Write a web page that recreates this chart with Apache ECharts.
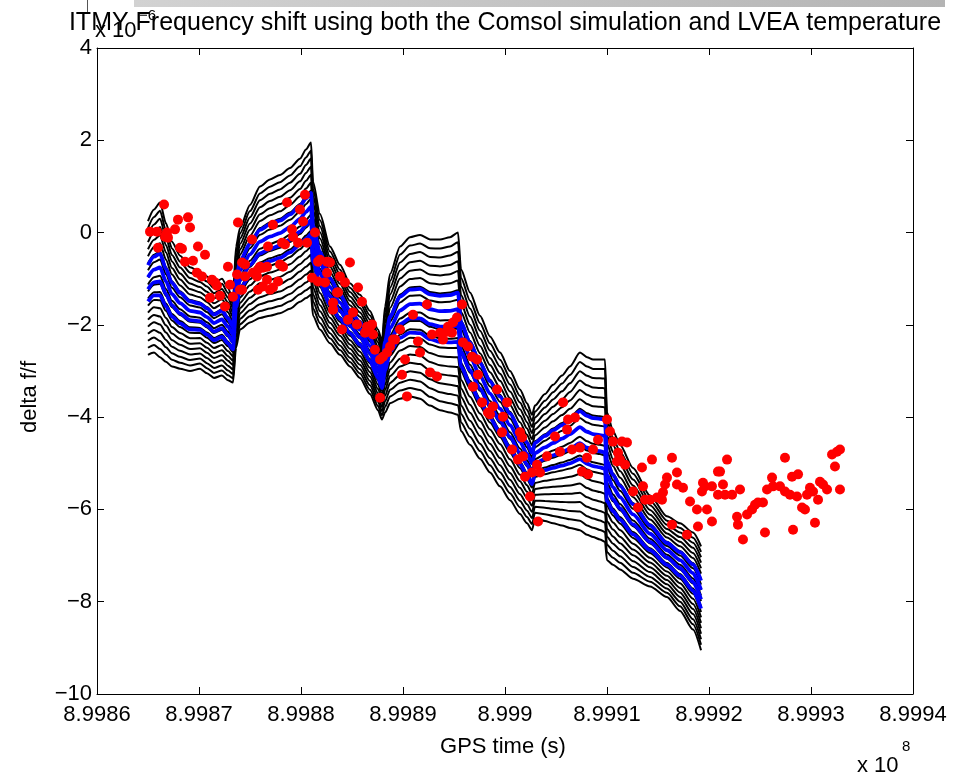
<!DOCTYPE html>
<html>
<head>
<meta charset="utf-8">
<script src="https://cdn.jsdelivr.net/npm/echarts@6.0.0/dist/echarts.min.js"></script>
<style>
  html, body { margin: 0; padding: 0; background: #fff; }
  #chart { width: 959px; height: 777px; }
</style>
</head>
<body>
<div id="chart"></div>
<script>
// GPS time of the left edge of the time axis (s)
const T0 = 899860000;

// x-axis tick values (GPS s) and y-axis range (delta f/f, units of 1e-6)
const xTickStart = 899860000, xTickEnd = 899940000, xTickStep = 10000;
const yTickMin = -10, yTickMax = 4, yTickStep = 2;

// Model time base, seconds after T0
const modelTime = [5000, 5590, 6180, 6760, 7350, 8140, 9120, 10100, 10780, 11470, 12250, 12840, 13330,
  13630, 14020, 15000, 15980, 16960, 17940, 18920, 19900, 20490, 20980,
  21180, 21860, 22840, 23820, 24800, 25780, 26760, 27550, 27940,
  28240, 28730, 29710, 30690, 31670, 32650, 33630, 34610, 35390,
  35690, 36570, 37550, 38530, 39510, 40490, 41470, 42160, 42650,
  42940, 43920, 44710, 45590, 46370, 47350, 48040, 48630, 49310, 49800,
  50000, 50590, 51270, 52550, 54220, 55880, 57160, 58430, 59220];

// Upper member of the parameter sweep (delta f/f x 1e-6)
const modelUpper = [0.25, 0.50, 0.65, 0.20, -0.20, -0.50, -0.75, -0.85, -0.95, -1.10, -1.00, -1.20, -1.45,
  -0.30, 0.10, 0.60, 1.00, 1.15, 1.25, 1.40, 1.60, 1.80, 1.95,
  1.10, 0.40, -0.30, -0.70, -1.10, -1.35, -1.70, -2.10, -2.35,
  -1.60, -0.90, -0.30, -0.10, -0.05, -0.15, -0.15, -0.10, 0.00,
  -0.80, -1.30, -1.80, -2.25, -2.60, -3.00, -3.40, -3.70, -3.95,
  -3.75, -3.50, -3.30, -3.10, -2.90, -2.60, -2.70, -2.75, -2.75, -2.75,
  -3.90, -4.30, -4.60, -5.10, -5.70, -6.15, -6.30, -6.50, -6.80];

// Lower member of the parameter sweep (delta f/f x 1e-6)
const modelLower = [-2.65, -2.60, -2.70, -2.80, -2.90, -2.95, -3.00, -2.95, -3.05, -3.15, -3.10, -3.20, -3.25,
  -2.50, -2.10, -1.95, -1.85, -1.80, -1.75, -1.65, -1.50, -1.42, -1.35,
  -1.80, -2.10, -2.40, -2.65, -2.90, -3.15, -3.50, -3.85, -4.05,
  -3.90, -3.70, -3.60, -3.55, -3.60, -3.75, -3.85, -3.90, -3.95,
  -4.30, -4.60, -4.90, -5.20, -5.50, -5.80, -6.10, -6.30, -6.45,
  -6.20, -6.25, -6.30, -6.35, -6.40, -6.45, -6.55, -6.60, -6.65, -6.70,
  -7.10, -7.20, -7.30, -7.50, -7.67, -7.90, -8.20, -8.60, -9.05];

// Sweep fractions between the upper and lower members
const sweepBlack = [0, 0.053, 0.105, 0.158, 0.211, 0.263, 0.316, 0.368, 0.421, 0.474,
  0.526, 0.579, 0.632, 0.684, 0.737, 0.789, 0.842, 0.895, 0.947, 1];
const sweepBlue = [0.33, 0.42, 0.51, 0.60];

// Measured frequency shift, seconds after T0
const measTime = [6570, 5200, 5880, 6860, 5980, 6960, 7650, 7940, 8920, 9120, 8330, 9900, 10590, 8630,
  9410, 9800, 10290, 11270, 11760, 11080, 12060, 12550, 12840, 13040, 13330, 13730, 14020, 13820,
  14510, 6670, 8140, 11570,
  15200, 14510, 15780, 15690, 16270, 16670, 16760, 17250, 18630, 19120, 19220, 19710, 19900, 20390,
  20200, 20590, 18140, 17940, 16670, 17250, 16270, 15780, 18240, 17750, 21370, 21670, 22550, 21080,
  22350, 18430, 15290, 14220, 14220, 16960, 22840, 21670, 23630, 15980,
  21860, 24800, 22550, 23820, 24310, 25590, 23530, 23140, 25980, 23140, 25100, 24610, 24020, 25490,
  26470, 26960, 26270, 27250, 27750, 28430, 28730, 29220, 29710, 30980, 32350, 30200, 31670, 31470,
  29900, 32650, 33330, 30390, 33630, 34310, 33920, 34800, 34900, 35290, 35780, 34410, 35880, 36370,
  36770, 37260, 37350, 36860, 37750, 38820, 38530, 39220, 26770, 27060, 29020, 32840, 28040, 27750,
  40200, 38330, 39800, 39710, 41470, 41670, 40690, 41770, 41270, 41960, 42650, 42450, 43240, 45690,
  46180, 46860, 44900, 46080, 44120, 43140, 45390, 43430, 46570, 47350, 48040, 47550, 48140, 48630,
  49120, 50000, 50290, 50590, 51470, 51960, 51080, 51270, 51770, 52550, 53040, 53530, 53730, 54410,
  54900, 55490, 56370, 55880, 56860, 56860, 57450, 59410, 59610, 60290, 60880, 56370, 57840, 50980,
  53430, 55690, 54220, 55390, 58140, 58820, 59310, 61080, 61370, 61770, 60880, 61570, 62260, 63040,
  59800, 58920, 60290, 62750, 62840, 63330, 63730, 64220, 64510, 64800, 65290, 65490, 65690, 66180,
  66280, 66960, 67450, 68140, 68730, 67450, 67940, 68630, 69120, 69410, 68240, 69610, 69900, 70200,
  70690, 70390, 70880, 71180, 71570, 72060, 72550, 72840, 72350, 72840];

// Measured frequency shift (delta f/f x 1e-6)
const measValue = [0.61, 0.02, 0.02, 0.00, -0.33, -0.11, 0.07, 0.28, 0.33, 0.11, -0.35, -0.30, -0.48, -0.63,
  -0.61, -0.87, -0.95, -1.02, -1.15, -1.41, -1.37, -1.60, -0.74, -1.13, -1.39, -0.91, -1.24, 0.22,
  -0.69, -0.09, -0.33, -1.08,
  -0.15, -0.95, -0.80, -0.95, -0.76, -0.74, -0.30, 0.17, 0.65, 0.07, -0.09, -0.22, 0.50, 0.82,
  0.24, -0.22, -0.22, -0.69, -1.02, -1.19, -1.17, -1.24, -0.74, -1.06, 0.00, -0.63, -0.63, -0.98,
  -1.08, -0.26, -0.87, -0.65, -1.24, -1.24, -0.65, -1.06, -1.30, -0.74,
  -0.59, -0.65, -0.87, -0.95, -1.08, -1.19, -1.30, -1.52, -1.50, -1.67, -1.73, -1.89, -2.10, -1.99,
  -2.04, -1.99, -2.17, -2.54, -2.75, -2.60, -2.47, -2.32, -2.10, -1.78, -1.56, -2.75, -2.60, -2.36,
  -3.08, -3.03, -3.12, -3.55, -2.17, -2.15, -2.32, -2.17, -1.95, -1.84, -1.56, -2.04, -2.38, -2.47,
  -2.69, -2.75, -3.08, -3.34, -3.68, -3.77, -3.94, -3.40, -2.04, -2.21, -2.32, -2.21, -2.69, -3.58,
  -3.68, -3.90, -3.99, -4.33, -4.33, -4.44, -4.70, -4.85, -4.92, -5.29, -5.20, -5.72, -6.26, -3.68,
  -4.05, -4.01, -4.42, -4.27, -4.85, -5.03, -4.75, -5.20, -4.70, -4.66, -4.88, -5.18, -5.24, -4.70,
  -4.49, -4.05, -4.31, -4.53, -4.53, -4.55, -4.77, -4.92, -5.03, -5.61, -5.96, -5.50, -5.79, -4.92,
  -5.74, -5.63, -4.88, -5.31, -5.20, -5.46, -5.53, -5.42, -5.50, -5.50, -5.18, -6.33, -6.55, -4.96,
  -5.09, -5.46, -5.79, -5.79, -5.83, -6.00, -5.61, -5.18, -5.46, -4.92, -5.68, -5.68, -5.68, -5.57,
  -6.00, -6.37, -6.26, -6.16, -6.33, -6.65, -6.11, -6.00, -5.90, -5.85, -5.85, -6.50, -5.57, -5.31,
  -5.50, -5.50, -4.88, -5.29, -5.24, -5.61, -5.68, -5.72, -5.96, -6.00, -6.44, -5.68, -5.53, -5.61,
  -5.79, -6.29, -5.40, -5.46, -5.57, -4.81, -4.75, -4.70, -5.07, -5.57];

const FONT = 'Liberation Sans, Arial, Helvetica, sans-serif';

function sweepCurve(w) {
  return modelTime.map((t, i) => [T0 + t, modelUpper[i] + w * (modelLower[i] - modelUpper[i])]);
}

const series = [];
sweepBlack.forEach(w => series.push({
  type: 'line', data: sweepCurve(w), showSymbol: false, symbol: 'none',
  smooth: 0.25, smoothMonotone: 'x',
  lineStyle: { color: '#000000', width: 2 }, z: 2, silent: true
}));
sweepBlue.forEach(w => series.push({
  type: 'line', data: sweepCurve(w), showSymbol: false, symbol: 'none',
  smooth: 0.25, smoothMonotone: 'x',
  lineStyle: { color: '#0000ff', width: 3.8 }, z: 3, silent: true
}));
series.push({
  type: 'scatter', data: measTime.map((t, i) => [T0 + t, measValue[i]]),
  symbol: 'circle', symbolSize: 10, itemStyle: { color: '#ff0000', opacity: 1 }, z: 4, silent: true
});

const fmtX = v => parseFloat((v / 1e8).toFixed(4)).toString();
const fmtY = v => String(v).replace('-', '\u2212');

function axisCommon() {
  return {
    axisLine: { show: true, onZero: false, lineStyle: { color: '#000', width: 1 } },
    axisTick: { show: true, inside: true, length: 7, lineStyle: { color: '#000' } },
    splitLine: { show: false }
  };
}

const option = {
  animation: false,
  backgroundColor: '#ffffff',
  grid: { left: 97, right: 46, top: 48, bottom: 83, containLabel: false },
  xAxis: [
    Object.assign({ type: 'value', position: 'bottom', min: xTickStart, max: xTickEnd, interval: xTickStep,
      axisLabel: { formatter: fmtX, color: '#000', fontFamily: FONT, fontSize: 22, margin: 10 } }, axisCommon()),
    Object.assign({ type: 'value', position: 'top', min: xTickStart, max: xTickEnd, interval: xTickStep,
      axisLabel: { show: false } }, axisCommon())
  ],
  yAxis: [
    Object.assign({ type: 'value', position: 'left', min: yTickMin, max: yTickMax, interval: yTickStep,
      axisLabel: { formatter: fmtY, color: '#000', fontFamily: FONT, fontSize: 22, margin: 5 } }, axisCommon()),
    Object.assign({ type: 'value', position: 'right', min: yTickMin, max: yTickMax, interval: yTickStep,
      axisLabel: { show: false } }, axisCommon())
  ],
  series: series,
  graphic: [
    { type: 'rect', shape: { x: 134, y: 0, width: 811, height: 7 }, z: 10,
      style: { fill: new echarts.graphic.LinearGradient(0, 0, 1, 0, [
        { offset: 0, color: '#d2d2d2' }, { offset: 1, color: '#b4b4b4' }]) } },
    { type: 'line', shape: { x1: 87.5, y1: 0, x2: 87.5, y2: 12 }, z: 10,
      style: { stroke: '#555', lineWidth: 1 } },
    { type: 'text', x: 505, y: 23, z: 10,
      style: { text: 'ITMY Frequency shift using both the Comsol simulation and LVEA temperature',
        font: '25px ' + FONT, fill: '#000', textAlign: 'center', textVerticalAlign: 'middle',
        align: 'center', verticalAlign: 'middle' } },
    { type: 'text', x: 95, y: 31, z: 11,
      style: { text: 'x 10', font: '22px ' + FONT, fill: '#000', textAlign: 'left', textVerticalAlign: 'middle',
        align: 'left', verticalAlign: 'middle' } },
    { type: 'text', x: 139, y: 16, z: 11,
      style: { text: '\u22126', font: '15px ' + FONT, fill: '#000', textAlign: 'left', textVerticalAlign: 'middle',
        align: 'left', verticalAlign: 'middle' } },
    { type: 'text', x: 30, y: 397, rotation: Math.PI / 2, z: 10,
      style: { text: 'delta f/f', font: '22px ' + FONT, fill: '#000', textAlign: 'center', textVerticalAlign: 'middle',
        align: 'center', verticalAlign: 'middle' } },
    { type: 'text', x: 503, y: 747, z: 10,
      style: { text: 'GPS time (s)', font: '22px ' + FONT, fill: '#000', textAlign: 'center', textVerticalAlign: 'middle',
        align: 'center', verticalAlign: 'middle' } },
    { type: 'text', x: 857, y: 766, z: 10,
      style: { text: 'x 10', font: '22px ' + FONT, fill: '#000', textAlign: 'left', textVerticalAlign: 'middle',
        align: 'left', verticalAlign: 'middle' } },
    { type: 'text', x: 902, y: 747, z: 10,
      style: { text: '8', font: '15px ' + FONT, fill: '#000', textAlign: 'left', textVerticalAlign: 'middle',
        align: 'left', verticalAlign: 'middle' } }
  ]
};

const chart = echarts.init(document.getElementById('chart'), null, { renderer: 'canvas' });
chart.setOption(option);
</script>
</body>
</html>
